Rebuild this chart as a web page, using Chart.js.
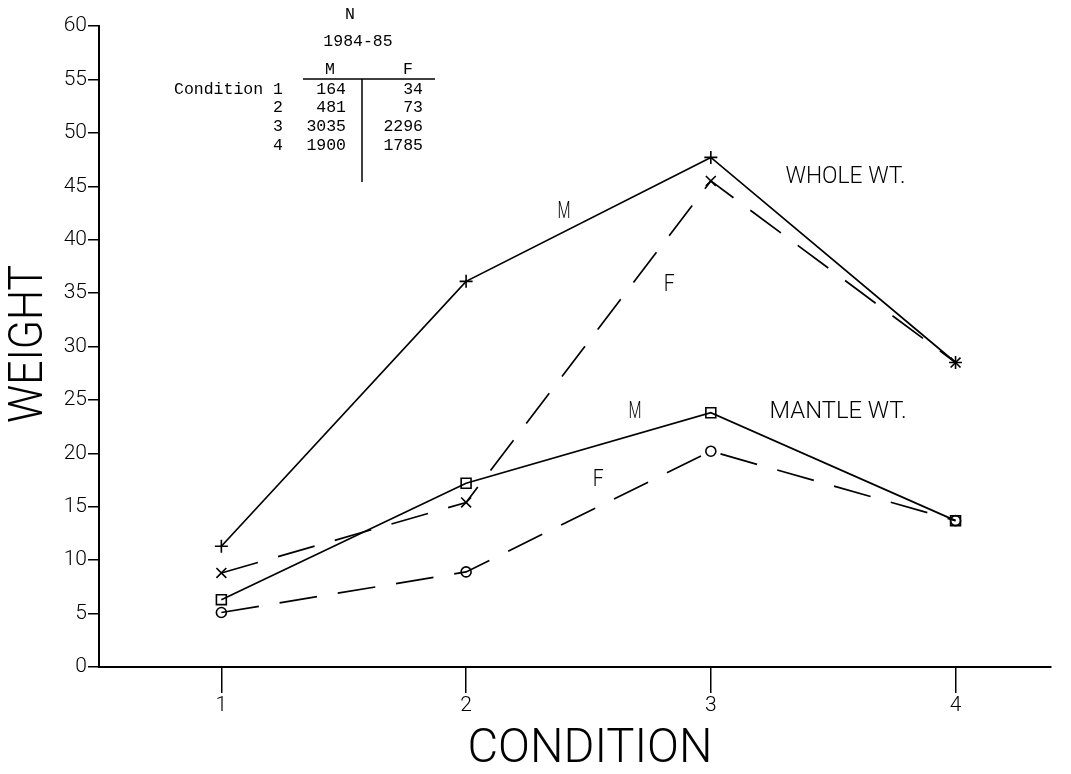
<!DOCTYPE html>
<html lang="en">
<head>
  <meta charset="UTF-8" />
  <title>Weight by condition</title>
  <style>
    body { margin: 0; background: #fff; }
    #wrap { width: 1071px; height: 774px; }
  </style>
  <script src="https://cdn.jsdelivr.net/npm/chart.js"></script>
</head>
<body>
  <div id="wrap"><canvas id="weightChart" width="1071" height="774"></canvas></div>
  <script>
    // values
    const conditions = [1, 2, 3, 4];
    const wholeM = [11.3, 36.1, 47.7, 28.5];
    const wholeF = [8.8, 15.4, 45.5, 28.5];
    const mantleM = [6.3, 17.2, 23.8, 13.7];
    const mantleF = [5.1, 8.9, 20.2, 13.7];
    const yTicks = [0, 5, 10, 15, 20, 25, 30, 35, 40, 45, 50, 55, 60];

    // N table, 1984-85
    const nMale = [164, 481, 3035, 1900];
    const nFemale = [34, 73, 2296, 1785];

    // curve labels, placed in data units
    const curveLabels = [
      { text: 'M', x: 2.40, y: 42.6, w: 13 },
      { text: 'F', x: 2.83, y: 35.8, w: 11 },
      { text: 'WHOLE WT.', x: 3.55, y: 45.9, w: 120 },
      { text: 'M', x: 2.69, y: 23.9, w: 13 },
      { text: 'MANTLE WT.', x: 3.52, y: 23.9, w: 137 },
      { text: 'F', x: 2.54, y: 17.5, w: 11 }
    ];

    const thinFont = '"Roboto", "DejaVu Sans", sans-serif';
    const monoFont = '"Liberation Mono", "DejaVu Sans Mono", monospace';

    // draw text squeezed to a given width (plotter lettering is narrow)
    function fitText(ctx, text, cx, cy, width, px, rot) {
      ctx.save();
      ctx.font = '300 ' + px + 'px ' + thinFont;
      const m = ctx.measureText(text).width;
      ctx.translate(cx, cy);
      if (rot) ctx.rotate(rot);
      ctx.scale(width / m, 1);
      ctx.textAlign = 'center';
      ctx.textBaseline = 'middle';
      ctx.fillStyle = '#000';
      ctx.fillText(text, 0, 0);
      ctx.restore();
    }

    const annotations = {
      id: 'annotations',
      afterDraw(chart) {
        const ctx = chart.ctx;
        const xs = chart.scales.x, ys = chart.scales.y;

        curveLabels.forEach(l => {
          fitText(ctx, l.text, xs.getPixelForValue(l.x), ys.getPixelForValue(l.y), l.w, 24, 0);
        });

        // axis titles
        fitText(ctx, 'WEIGHT', 30, 344, 158, 48, -Math.PI / 2);
        fitText(ctx, 'CONDITION', 590, 750, 245, 48, 0);

        // N table
        ctx.save();
        ctx.fillStyle = '#000';
        ctx.font = '16.5px ' + monoFont;
        ctx.textBaseline = 'middle';
        ctx.textAlign = 'center';
        ctx.fillText('N', 350, 15);
        ctx.fillText('1984-85', 358, 42);
        ctx.fillText('M', 330, 70);
        ctx.fillText('F', 408, 70);
        const rowY = [90, 108, 127, 146];
        conditions.forEach((c, i) => {
          ctx.textAlign = 'left';
          if (i === 0) ctx.fillText('Condition', 174, rowY[i]);
          ctx.textAlign = 'center';
          ctx.fillText(String(c), 278, rowY[i]);
          ctx.textAlign = 'right';
          ctx.fillText(String(nMale[i]), 346, rowY[i]);
          ctx.fillText(String(nFemale[i]), 423, rowY[i]);
        });
        ctx.strokeStyle = '#000';
        ctx.lineWidth = 1.5;
        ctx.beginPath();
        ctx.moveTo(303, 79); ctx.lineTo(435, 79);
        ctx.moveTo(362, 79); ctx.lineTo(362, 182);
        ctx.stroke();
        ctx.restore();
      }
    };

    function series(values, style, radius, dashed) {
      return {
        data: conditions.map((c, i) => ({ x: c, y: values[i] })),
        borderColor: '#000',
        borderWidth: 1.7,
        borderDash: dashed ? [38, 21] : [],
        pointStyle: style,
        pointRadius: radius,
        pointBorderWidth: 1.6,
        pointBorderColor: '#000',
        pointBackgroundColor: 'rgba(255,255,255,0)',
        tension: 0
      };
    }

    new Chart(document.getElementById('weightChart'), {
      type: 'line',
      data: {
        datasets: [
          series(wholeM, 'cross', 6.5, false),
          series(wholeF, 'crossRot', 7, true),
          series(mantleM, 'rect', 7, false),
          series(mantleF, 'circle', 5, true)
        ]
      },
      options: {
        responsive: false,
        animation: false,
        layout: { padding: { top: 26, right: 20, left: 0, bottom: 0 } },
        plugins: { legend: { display: false }, tooltip: { enabled: false } },
        scales: {
          x: {
            type: 'linear',
            min: 0.5,
            max: 4.39,
            afterBuildTicks: s => { s.ticks = conditions.map(v => ({ value: v })); },
            afterFit: s => { s.height = 107; },
            grid: { drawOnChartArea: false, drawTicks: true, tickLength: 26, color: '#000', lineWidth: 1.5 },
            border: { display: true, color: '#000', width: 2 },
            ticks: { color: '#000', padding: 0, font: { family: thinFont, size: 21, weight: '300' } }
          },
          y: {
            min: 0,
            max: 60,
            afterBuildTicks: s => { s.ticks = yTicks.map(v => ({ value: v })); },
            afterFit: s => { s.width = 99; },
            grid: { drawOnChartArea: false, drawTicks: true, tickLength: 11, color: '#000', lineWidth: 1.5 },
            border: { display: true, color: '#000', width: 2 },
            ticks: { color: '#000', padding: 1, font: { family: thinFont, size: 21, weight: '300' } }
          }
        }
      },
      plugins: [annotations]
    });
  </script>
</body>
</html>
